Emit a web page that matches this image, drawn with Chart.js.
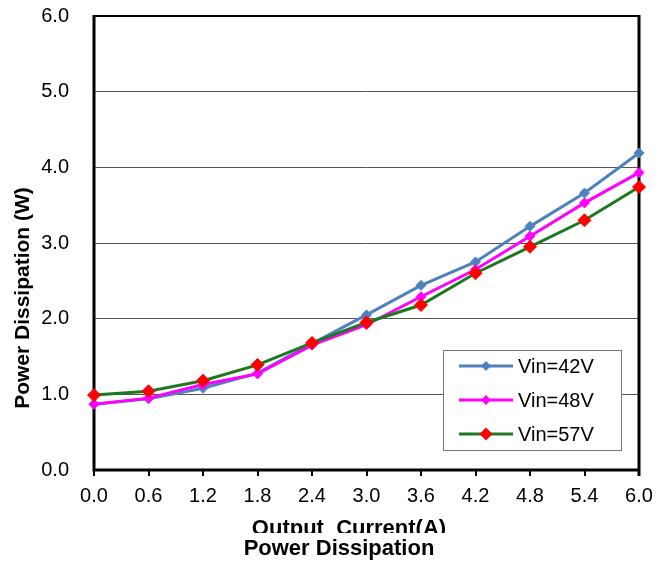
<!DOCTYPE html>
<html>
<head>
<meta charset="utf-8">
<script src="https://cdn.jsdelivr.net/npm/chart.js@4/dist/chart.umd.min.js"></script>
<style>
  body { margin: 0; background: #fff; }
</style>
</head>
<body>
<canvas id="chart" width="665" height="565"></canvas>
<script>
// data
const currents = ["0.0", "0.6", "1.2", "1.8", "2.4", "3.0", "3.6", "4.2", "4.8", "5.4", "6.0"];
const seriesNames = ["Vin=42V", "Vin=48V", "Vin=57V"];
const vin42 = [0.87, 0.94, 1.08, 1.28, 1.67, 2.05, 2.44, 2.75, 3.22, 3.66, 4.19];
const vin48 = [0.87, 0.95, 1.13, 1.27, 1.65, 1.92, 2.29, 2.65, 3.09, 3.53, 3.93];
const vin57 = [0.99, 1.04, 1.18, 1.39, 1.68, 1.95, 2.18, 2.6, 2.95, 3.3, 3.74];

const yTitle = "Power Dissipation (W)";
const xTitle = "Output  Current(A)";
const chartTitle = "Power Dissipation";

const font = "Arial, 'Liberation Sans', sans-serif";

// cadre noir autour de la zone (sous les courbes)
const framePlugin = {
  id: "frame",
  beforeDatasetsDraw(chart) {
    const { ctx, chartArea: a } = chart;
    ctx.save();
    ctx.strokeStyle = "#000";
    ctx.lineWidth = 2;
    ctx.beginPath();
    ctx.moveTo(a.left, a.top);
    ctx.lineTo(a.right, a.top);
    ctx.stroke();
    ctx.lineWidth = 3;
    ctx.beginPath();
    ctx.moveTo(a.left, a.top - 1);
    ctx.lineTo(a.left, a.bottom);
    ctx.lineTo(a.right, a.bottom);
    ctx.moveTo(a.right, a.top - 1);
    ctx.lineTo(a.right, a.bottom + 6);
    ctx.stroke();
    ctx.restore();
  },
};

// legende dans un cadre blanc
const legendPlugin = {
  id: "boxLegend",
  afterDatasetsDraw(chart) {
    const ctx = chart.ctx;
    const bx = 443, by = 350, bw = 178, bh = 100;
    ctx.save();
    ctx.fillStyle = "#fff";
    ctx.fillRect(bx, by, bw, bh);
    ctx.strokeStyle = "#777";
    ctx.lineWidth = 1;
    ctx.strokeRect(bx + 0.5, by + 0.5, bw, bh);
    chart.data.datasets.forEach((ds, i) => {
      const y = by + 16 + i * 34;
      ctx.strokeStyle = ds.borderColor;
      ctx.lineWidth = 3;
      ctx.beginPath();
      ctx.moveTo(459, y);
      ctx.lineTo(513, y);
      ctx.stroke();
      ctx.fillStyle = ds.pointBackgroundColor;
      const r = ds.pointRadius;
      ctx.beginPath();
      ctx.moveTo(486 - r, y);
      ctx.lineTo(486, y - r);
      ctx.lineTo(486 + r, y);
      ctx.lineTo(486, y + r);
      ctx.closePath();
      ctx.fill();
      ctx.fillStyle = "#000";
      ctx.font = "20px " + font;
      ctx.textBaseline = "middle";
      ctx.textAlign = "left";
      ctx.fillText(ds.label, 518, y + 1);
    });
    ctx.restore();
  },
};

// titres des axes et titre du bas
const titlesPlugin = {
  id: "titles",
  afterDraw(chart) {
    const ctx = chart.ctx;
    ctx.save();
    ctx.fillStyle = "#000";
    ctx.textAlign = "center";
    ctx.textBaseline = "alphabetic";

    ctx.save();
    ctx.translate(29, 298);
    ctx.rotate(-Math.PI / 2);
    ctx.font = "bold 21px " + font;
    ctx.fillText(yTitle, 0, 0);
    ctx.restore();

    // le titre de l'axe x est coupe en bas
    ctx.save();
    ctx.beginPath();
    ctx.rect(0, 505, 665, 28);
    ctx.clip();
    ctx.font = "bold 22px " + font;
    ctx.fillText(xTitle, 349, 535);
    ctx.restore();

    ctx.font = "bold 22px " + font;
    ctx.fillText(chartTitle, 339, 555);
    ctx.restore();
  },
};

function makeSet(label, values, color, markColor, radius, order) {
  return {
    label: label,
    data: values,
    borderColor: color,
    borderWidth: 3,
    backgroundColor: markColor,
    pointBackgroundColor: markColor,
    pointBorderColor: markColor,
    pointBorderWidth: 1,
    pointStyle: "rectRot",
    pointRadius: radius,
    pointHoverRadius: radius,
    tension: 0,
    clip: false,
    order: order,
  };
}

new Chart(document.getElementById("chart").getContext("2d"), {
  type: "line",
  data: {
    labels: currents,
    datasets: [
      makeSet(seriesNames[0], vin42, "#4F81BD", "#4F81BD", 5, 3),
      makeSet(seriesNames[1], vin48, "#FF00FF", "#FF00FF", 5, 2),
      makeSet(seriesNames[2], vin57, "#1E781E", "#FF0000", 6.5, 1),
    ],
  },
  options: {
    responsive: false,
    animation: false,
    devicePixelRatio: 1,
    layout: { padding: { top: 0, right: 26, left: 0, bottom: 0 } },
    plugins: {
      legend: { display: false },
      tooltip: { enabled: false },
      title: { display: false },
    },
    scales: {
      x: {
        type: "category",
        offset: false,
        afterFit: (scale) => {
          scale.height = 95;
        },
        border: { display: false },
        grid: {
          drawOnChartArea: false,
          drawTicks: true,
          tickLength: 6,
          color: "#000",
          lineWidth: 2,
        },
        ticks: {
          color: "#000",
          font: { family: font, size: 20 },
          padding: 8,
          maxRotation: 0,
          autoSkip: false,
        },
      },
      y: {
        min: 0,
        max: 6,
        afterFit: (scale) => {
          scale.width = 94;
          scale.paddingTop = 16;
          scale.paddingBottom = 0;
        },
        border: { display: false },
        grid: {
          color: "#555",
          lineWidth: 1,
          drawTicks: false,
        },
        ticks: {
          stepSize: 1,
          color: "#000",
          font: { family: font, size: 20 },
          padding: 25,
          callback: (v) => v.toFixed(1),
        },
      },
    },
  },
  plugins: [framePlugin, legendPlugin, titlesPlugin],
});
</script>
</body>
</html>
